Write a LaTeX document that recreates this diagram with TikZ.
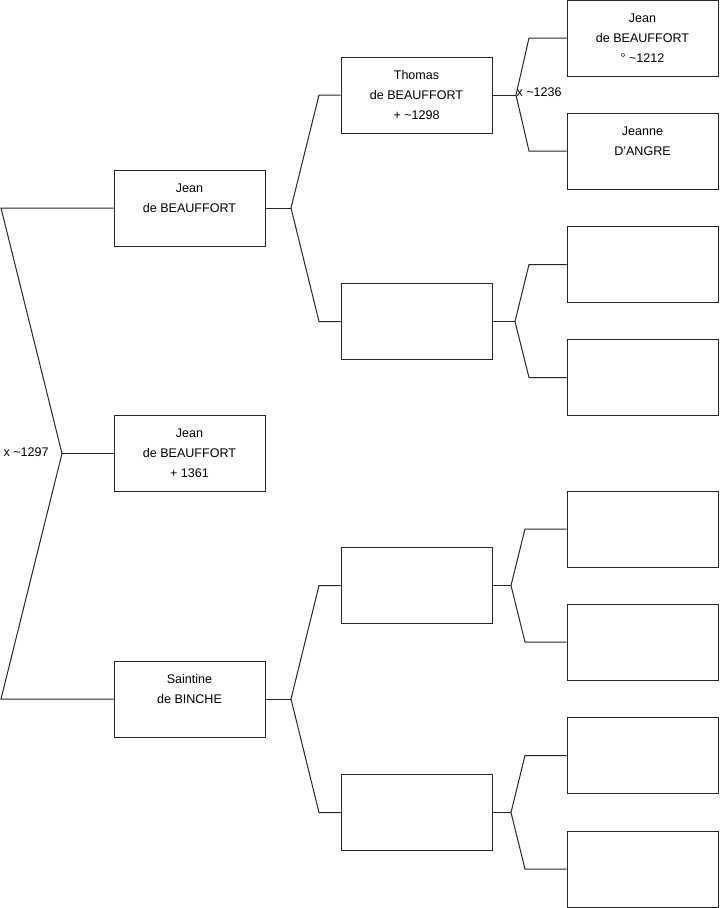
\documentclass[tikz,border=0pt]{standalone}
\usepackage{fontspec}
\setmainfont{Liberation Sans}
\begin{document}
\begin{tikzpicture}[x=0.75pt,y=-0.75pt,
  person/.style={draw=black!85,line width=0.75pt,minimum width=113.25pt,minimum height=57pt,inner sep=0pt,align=center,font=\fontsize{9.4}{15}\selectfont},
  link/.style={draw=black!85,line width=0.75pt},
  lbl/.style={font=\fontsize{9.4}{12}\selectfont,inner sep=1pt}]
\useasboundingbox (0,0) rectangle (719,908);
% generation 1
\node[person] (b1) at (189.5,208) {Jean\\de BEAUFFORT\\\mbox{}};
\node[person] (b0) at (189.5,453.5) {Jean\\de BEAUFFORT\\+ 1361};
\node[person] (b2) at (189.5,699) {Saintine\\de BINCHE\\\mbox{}};
% generation 2
\node[person] (c1) at (416.5,95) {Thomas\\de BEAUFFORT\\+ \textasciitilde1298};
\node[person] (c2) at (416.5,321.5) {};
\node[person] (c3) at (416.5,585.5) {};
\node[person] (c4) at (416.5,812.5) {};
% generation 3
\node[person] (d1) at (642.5,38) {Jean\\de BEAUFFORT\\° \textasciitilde1212};
\node[person] (d2) at (642.5,151) {Jeanne\\D'ANGRE\\\mbox{}};
\node[person] (d3) at (642.5,264.5) {};
\node[person] (d4) at (642.5,377.5) {};
\node[person] (d5) at (642.5,529) {};
\node[person] (d6) at (642.5,642) {};
\node[person] (d7) at (642.5,755.5) {};
\node[person] (d8) at (642.5,869) {};
% junction points
\coordinate (L1) at (1,208);
\coordinate (L2) at (1,699);
\coordinate (LJ) at (62,453.5);
\coordinate (j1) at (291,208);
\coordinate (j1a) at (319,95);
\coordinate (j1b) at (319,321.5);
\coordinate (j2) at (291,699);
\coordinate (j2a) at (319,585.5);
\coordinate (j2b) at (319,812.5);
\coordinate (j3) at (516,95);
\coordinate (j3a) at (529,38);
\coordinate (j3b) at (529,151);
\coordinate (j4) at (515,321.5);
\coordinate (j4a) at (529,264.5);
\coordinate (j4b) at (529,377.5);
\coordinate (j5) at (511,585.5);
\coordinate (j5a) at (525,529);
\coordinate (j5b) at (525,642);
\coordinate (j6) at (511,812.5);
\coordinate (j6a) at (525,755.5);
\coordinate (j6b) at (525,869);
% connectors
\draw[link] (b1.west) -- (L1) -- (LJ) -- (L2) -- (b2.west);
\draw[link] (LJ) -- (b0.west);
\draw[link] (b1.east) -- (j1);
\draw[link] (c1.west) -- (j1a) -- (j1) -- (j1b) -- (c2.west);
\draw[link] (b2.east) -- (j2);
\draw[link] (c3.west) -- (j2a) -- (j2) -- (j2b) -- (c4.west);
\draw[link] (c1.east) -- (j3);
\draw[link] (d1.west) -- (j3a) -- (j3) -- (j3b) -- (d2.west);
\draw[link] (c2.east) -- (j4);
\draw[link] (d3.west) -- (j4a) -- (j4) -- (j4b) -- (d4.west);
\draw[link] (c3.east) -- (j5);
\draw[link] (d5.west) -- (j5a) -- (j5) -- (j5b) -- (d6.west);
\draw[link] (c4.east) -- (j6);
\draw[link] (d7.west) -- (j6a) -- (j6) -- (j6b) -- (d8.west);
% marriage labels
\node[lbl,anchor=west] (m1) at (2,452) {x \textasciitilde1297};
\node[lbl,anchor=west] (m2) at (515,92) {x \textasciitilde1236};
\end{tikzpicture}
\end{document}
